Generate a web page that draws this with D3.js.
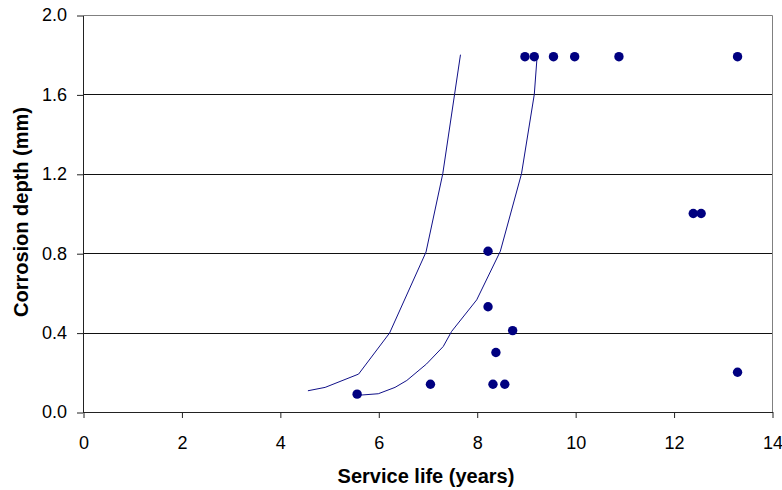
<!DOCTYPE html>
<html>
<head>
<meta charset="utf-8">
<script src="https://cdn.jsdelivr.net/npm/d3@7"></script>
<style>
html,body{margin:0;padding:0;background:#fff;}
svg{display:block;font-family:"Liberation Sans",Arial,sans-serif;}
</style>
</head>
<body>
<svg id="chart" width="782" height="490"></svg>
<script>
// Observed data points (service life in years, corrosion depth in mm)
const obsX = [5.57, 7.06, 8.33, 8.57, 8.39, 8.73, 8.23, 8.23, 8.98, 9.17, 9.56, 9.99, 10.89, 13.30, 12.40, 12.56, 13.30];
const obsY = [0.09, 0.14, 0.14, 0.14, 0.30, 0.41, 0.53, 0.81, 1.79, 1.79, 1.79, 1.79, 1.79, 1.79, 1.00, 1.00, 0.20];

// Model curve 1 (left)
const curve1X = [4.57, 4.92, 5.60, 6.23, 6.97, 7.31, 7.55, 7.67];
const curve1Y = [0.107, 0.124, 0.191, 0.398, 0.806, 1.20, 1.60, 1.80];

// Model curve 2 (right)
const curve2X = [5.58, 6.00, 6.34, 6.58, 6.98, 7.32, 7.49, 8.00, 8.48, 8.91, 9.17, 9.23];
const curve2Y = [0.084, 0.092, 0.124, 0.159, 0.242, 0.33, 0.406, 0.565, 0.81, 1.20, 1.60, 1.80];

const xTicks = [0, 2, 4, 6, 8, 10, 12, 14];
const yTicks = [0.0, 0.4, 0.8, 1.2, 1.6, 2.0];

const xTitle = "Service life (years)";
const yTitle = "Corrosion depth (mm)";

(function () {
const svg = d3.select("#chart");
const pL = 83, pR = 772, pT = 15, pB = 412;

const x = d3.scaleLinear().domain([0, 14]).range([pL, pR]);
const y = d3.scaleLinear().domain([0, 2]).range([pB, pT]);

const crisp = v => Math.round(v) + 0.5;

// Gridlines
svg.append("g").selectAll("line").data(yTicks.filter(d => d > 0 && d < 2)).join("line")
  .attr("x1", pL).attr("x2", pR)
  .attr("y1", d => crisp(y(d))).attr("y2", d => crisp(y(d)))
  .attr("stroke", "#111").attr("stroke-width", 1);

// Plot border top and right (gray)
svg.append("line").attr("x1", pL).attr("x2", crisp(pR)).attr("y1", crisp(pT)).attr("y2", crisp(pT))
  .attr("stroke", "#808080");
svg.append("line").attr("x1", crisp(pR)).attr("x2", crisp(pR)).attr("y1", crisp(pT)).attr("y2", crisp(pB))
  .attr("stroke", "#808080");

// Axes
const xAxis = d3.axisBottom(x).tickValues(xTicks).tickSize(6).tickSizeOuter(0).tickFormat(d3.format("d"));
const yAxis = d3.axisLeft(y).tickValues(yTicks).tickSize(6).tickSizeOuter(0).tickFormat(d3.format(".1f"));

const gx = svg.append("g").attr("transform", `translate(0.5,${Math.round(pB)})`).call(xAxis);
const gy = svg.append("g").attr("transform", `translate(${Math.round(pL)},0.5)`).call(yAxis);

[gx, gy].forEach(g => {
  g.select(".domain").attr("stroke", "#222");
  g.selectAll(".tick line").attr("stroke", "#222");
  g.selectAll(".tick text").attr("font-family", "Liberation Sans, Arial, sans-serif")
    .attr("font-size", 18).attr("fill", "#000");
});
gx.selectAll(".tick text").attr("dy", "0").attr("y", 37);
gy.selectAll(".tick text").attr("x", -16).attr("dy", "0.3em");

// Curves
const line = d3.line().x(d => x(d[0])).y(d => y(d[1]));
const c1 = curve1X.map((v, i) => [v, curve1Y[i]]);
const c2 = curve2X.map((v, i) => [v, curve2Y[i]]);
svg.append("path").datum(c1).attr("d", line).attr("fill", "none").attr("stroke", "#101088").attr("stroke-width", 1);
svg.append("path").datum(c2).attr("d", line).attr("fill", "none").attr("stroke", "#101088").attr("stroke-width", 1);

// Points
svg.append("g").selectAll("circle").data(obsX.map((v, i) => [v, obsY[i]])).join("circle")
  .attr("cx", d => x(d[0])).attr("cy", d => y(d[1])).attr("r", 4.7)
  .attr("fill", "#000080");

// Titles
svg.append("text").attr("x", 426).attr("y", 483)
  .attr("text-anchor", "middle").attr("font-weight", "bold").attr("font-size", 20)
  .text(xTitle);
svg.append("text").attr("transform", `translate(27.5,212) rotate(-90)`)
  .attr("text-anchor", "middle").attr("font-weight", "bold").attr("font-size", 20)
  .text(yTitle);
})();
</script>
</body>
</html>
